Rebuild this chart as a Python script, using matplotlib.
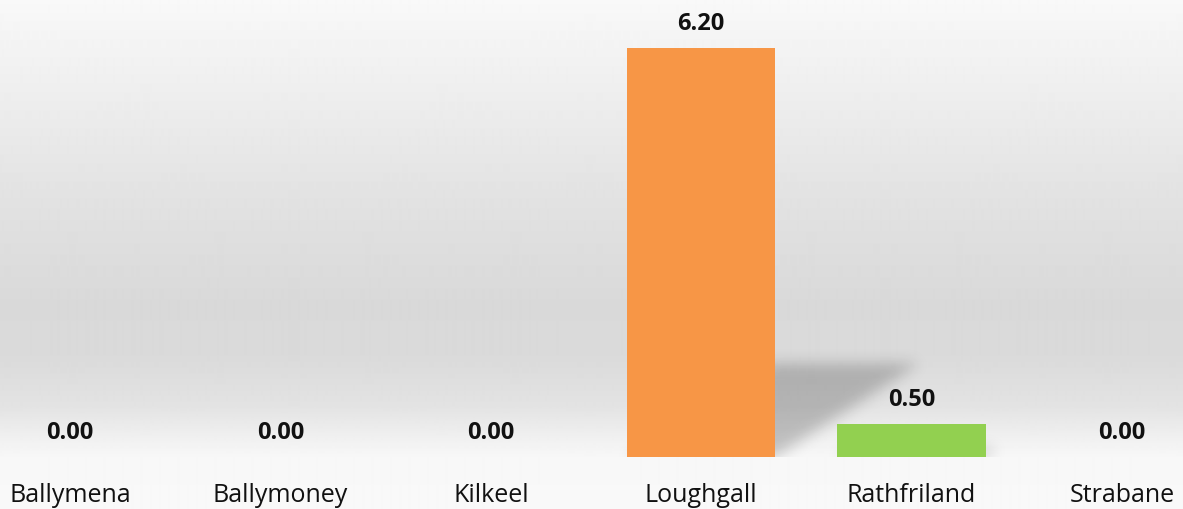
import numpy as np
import matplotlib.pyplot as plt

towns = ['Ballymena', 'Ballymoney', 'Kilkeel', 'Loughgall', 'Rathfriland', 'Strabane']
values = [0.00, 0.00, 0.00, 6.20, 0.50, 0.00]
bar_colors = ['#4F81BD', '#C0504D', '#9BBB59', '#F79646', '#92D050', '#4BACC6']

# background gradient stops (fraction from top, grey level)
grad_pos = [0.0, 0.2, 0.4, 0.6, 0.7, 0.8, 0.86, 0.9, 1.0]
grad_val = [0.975, 0.93, 0.885, 0.85, 0.855, 0.89, 0.94, 0.97, 0.975]

DPI = 100
PX = 72.0 / DPI  # points per pixel

plt.rcParams['font.family'] = ['Open Sans', 'DejaVu Sans']

fig = plt.figure(figsize=(11.83, 5.10), dpi=DPI)
ax = fig.add_axes([0, 0, 1, 1])
xlim = (-0.333, 5.29)
ylim = (-0.79, 6.935)
ax.set_xlim(*xlim)
ax.set_ylim(*ylim)
ax.axis('off')

# gradient backdrop
rows = np.linspace(0, 1, 510)
grey = np.interp(rows, grad_pos, grad_val)
bg = np.repeat(grey[:, None], 2, axis=1)
ax.imshow(bg, cmap='gray', vmin=0, vmax=1, extent=(*xlim, *ylim),
          aspect='auto', origin='upper', zorder=0, interpolation='bilinear')

width = 0.705
x = np.arange(len(towns))


def blur(a, sigma):
    r = 3 * int(sigma) + 1
    k = np.arange(-r, r + 1)
    g = np.exp(-k ** 2 / (2 * sigma ** 2))
    g /= g.sum()
    a = np.pad(a, r)
    a = np.apply_along_axis(lambda row: np.convolve(row, g, mode='same'), 1, a)
    a = np.apply_along_axis(lambda col: np.convolve(col, g, mode='same'), 0, a)
    return a[r:-r, r:-r]


# perspective shadow cast behind each bar
for xi, v in zip(x, values):
    if v <= 0:
        continue
    hs = v * 0.23
    dx = v * 0.111
    x0, x1 = xi - width / 2, xi + width / 2
    ex = (x0 - 0.1, x1 + dx + 0.3)
    ey = (0.0, hs + 0.4)
    nx = int((ex[1] - ex[0]) * 210)
    ny = int((ey[1] - ey[0]) * 66)
    gx, gy = np.meshgrid(np.linspace(ex[0], ex[1], nx), np.linspace(ey[0], ey[1], ny))
    t = gy / hs
    mask = ((gy <= hs) & (gx >= x0 + t * dx) & (gx <= x1 + t * dx)).astype(float)
    mask = blur(mask, 7)
    rgba = np.zeros((ny, nx, 4))
    rgba[..., 3] = mask * 0.21
    ax.imshow(rgba, extent=(ex[0], ex[1], ey[0], ey[1]), origin='lower',
              aspect='auto', zorder=1, interpolation='bilinear')

ax.bar(x, values, width=width, color=bar_colors, zorder=3)

for xi, v, name in zip(x, values, towns):
    ax.annotate(f'{v:.2f}', (xi, v), xytext=(0, 25 * PX), textcoords='offset points',
                ha='center', va='center', fontsize=17, fontweight='bold', color='#111111')
    ax.annotate(name, (xi, 0), xytext=(0, -38 * PX), textcoords='offset points',
                ha='center', va='center', fontsize=18, color='#111111')

fig.savefig('out.png', dpi=DPI)
